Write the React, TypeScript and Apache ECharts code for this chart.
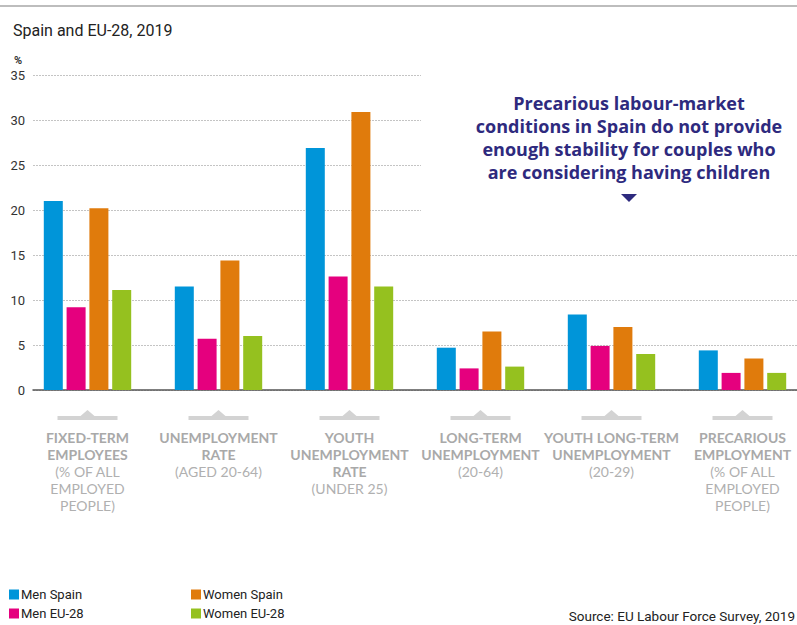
import React, { useEffect, useRef } from "react";
import * as echarts from "echarts";

const categories = [
  "Fixed-term employees",
  "Unemployment rate",
  "Youth unemployment rate",
  "Long-term unemployment",
  "Youth long-term unemployment",
  "Precarious employment",
];
const boldLines = [
  ["FIXED-TERM", "EMPLOYEES"],
  ["UNEMPLOYMENT", "RATE"],
  ["YOUTH", "UNEMPLOYMENT", "RATE"],
  ["LONG-TERM", "UNEMPLOYMENT"],
  ["YOUTH LONG-TERM", "UNEMPLOYMENT"],
  ["PRECARIOUS", "EMPLOYMENT"],
];
const normalLines = [
  ["(% OF ALL", "EMPLOYED", "PEOPLE)"],
  ["(AGED 20-64)"],
  ["(UNDER 25)"],
  ["(20-64)"],
  ["(20-29)"],
  ["(% OF ALL", "EMPLOYED", "PEOPLE)"],
];

const seriesNames = ["Men Spain", "Men EU-28", "Women Spain", "Women EU-28"];
const menSpain = [21.0, 11.5, 26.9, 4.7, 8.4, 4.4];
const menEU = [9.2, 5.7, 12.6, 2.4, 4.9, 1.9];
const womenSpain = [20.2, 14.4, 30.9, 6.5, 7.0, 3.5];
const womenEU = [11.1, 6.0, 11.5, 2.6, 4.0, 1.9];
const colors = ["#0095d9", "#e5007e", "#e07b0c", "#95c11f"];

const yTicks = { min: 0, max: 35, interval: 5 };

const titleText = "Spain and EU-28, 2019";
const noteText =
  "Precarious labour-market\nconditions in Spain do not provide\nenough stability for couples who\nare considering having children";
const sourceText = "Source: EU Labour Force Survey, 2019";

export default function App() {
  const ref = useRef<HTMLDivElement>(null);

  useEffect(() => {
    if (!ref.current) return;
    const chart = echarts.init(ref.current, null, { renderer: "svg" });
    const gridLine = { show: true, lineStyle: { color: "#c4c4c4", type: [2, 1], width: 1 } };
    const allValues = [menSpain, menEU, womenSpain, womenEU];
    const legendBase = {
      orient: "vertical",
      bottom: 5,
      icon: "rect",
      itemWidth: 10,
      itemHeight: 10,
      itemGap: 6,
      padding: 0,
      textStyle: { fontFamily: "Roboto", fontSize: 13, color: "#222", padding: [0, 0, 0, -3] },
    };

    const option: any = {
      animation: false,
      backgroundColor: "#ffffff",
      title: {
        text: titleText,
        left: 8,
        top: 17,
        textStyle: { fontFamily: "Roboto", fontSize: 16, fontWeight: "normal", color: "#222" },
      },
      legend: [
        { ...legendBase, data: [seriesNames[0], seriesNames[1]], left: 9 },
        { ...legendBase, data: [seriesNames[2], seriesNames[3]], left: 191 },
      ],
      grid: [
        { left: 33, top: 75, width: 388, height: 315, outerBoundsMode: "none" },
        { left: 33, top: 255, right: 0, height: 135, outerBoundsMode: "none" },
        { left: 22, top: 75, width: 786, height: 315, outerBoundsMode: "none", containLabel: false },
      ],
      xAxis: [
        { gridIndex: 0, type: "value", min: 0, max: 1, show: false },
        {
          gridIndex: 1,
          type: "value",
          min: 0,
          max: 1,
          axisLine: { show: true, lineStyle: { color: "#555", width: 1.5 } },
          axisTick: { show: false },
          axisLabel: { show: false },
          splitLine: { show: false },
        },
        {
          gridIndex: 2,
          type: "category",
          data: categories,
          axisLine: { show: false },
          axisTick: { show: false },
          axisLabel: {
            margin: 39,
            interval: 0,
            formatter: (_v: string, i: number) => {
              const b = boldLines[i].map((l) => `{b|${l}}`);
              const n = normalLines[i].map((l) => `{n|${l}}`);
              return [...b, ...n].join("\n");
            },
            rich: {
              b: {
                fontFamily: "Lato",
                fontWeight: "bold",
                fontSize: 14,
                color: "#a9a9a9",
                lineHeight: 17,
                align: "center",
              },
              n: {
                fontFamily: "Lato",
                fontWeight: "normal",
                fontSize: 14,
                color: "#b0b0b0",
                lineHeight: 17,
                align: "center",
              },
            },
          },
        },
      ],
      yAxis: [
        {
          gridIndex: 0,
          type: "value",
          ...yTicks,
          axisLine: { show: false },
          axisTick: { show: false },
          axisLabel: { fontFamily: "Roboto", fontSize: 13, color: "#333", margin: 8 },
          splitLine: gridLine,
        },
        {
          gridIndex: 1,
          type: "value",
          min: 0,
          max: 15,
          interval: 5,
          axisLine: { show: false },
          axisTick: { show: false },
          axisLabel: { show: false },
          splitLine: gridLine,
        },
        {
          gridIndex: 2,
          type: "value",
          ...yTicks,
          show: false,
          splitLine: { show: false },
        },
      ],
      series: [
        ...seriesNames.map((name, k) => ({
          name,
          type: "bar",
          xAxisIndex: 2,
          yAxisIndex: 2,
          data: allValues[k],
          barWidth: 19,
          barGap: "20%",
          itemStyle: { color: colors[k] },
        })),
        {
          type: "custom",
          xAxisIndex: 2,
          yAxisIndex: 2,
          clip: false,
          silent: true,
          data: categories.map((_c, i) => [i, 0]),
          renderItem: (_params: any, api: any) => {
            const p = api.coord([api.value(0), 0]);
            const cx = p[0];
            const y = p[1];
            return {
              type: "group",
              children: [
                {
                  type: "rect",
                  shape: { x: cx - 30, y: y + 26, width: 60, height: 4 },
                  style: { fill: "#d3d3d3" },
                },
                {
                  type: "polygon",
                  shape: { points: [[cx - 7, y + 26], [cx, y + 20], [cx + 7, y + 26]] },
                  style: { fill: "#d3d3d3" },
                },
              ],
            };
          },
        },
      ],
      graphic: [
        {
          type: "line",
          shape: { x1: 0, y1: 6, x2: 797, y2: 6 },
          style: { stroke: "#bdbdbd", lineWidth: 2 },
        },
        {
          type: "text",
          left: 14,
          top: 55,
          style: { text: "%", fontFamily: "Roboto", fontSize: 11, fontWeight: "bold", fill: "#333" },
        },
        {
          type: "text",
          x: 629,
          y: 91,
          style: {
            text: noteText,
            fontFamily: "Open Sans",
            fontWeight: "bold",
            fontSize: 18,
            lineHeight: 23,
            fill: "#2e2a7e",
            textAlign: "center",
          },
        },
        {
          type: "polygon",
          shape: { points: [[621, 194], [637, 194], [629, 202]] },
          style: { fill: "#2e2a7e" },
        },
        {
          type: "text",
          right: 2,
          top: 609,
          style: { text: sourceText, fontFamily: "Roboto", fontSize: 13.5, fill: "#222" },
        },
      ],
    };
    chart.setOption(option);
    return () => chart.dispose();
  }, []);

  return (
    <div
      ref={ref}
      style={{ position: "absolute", left: 0, top: 0, width: 797, height: 625 }}
    />
  );
}
